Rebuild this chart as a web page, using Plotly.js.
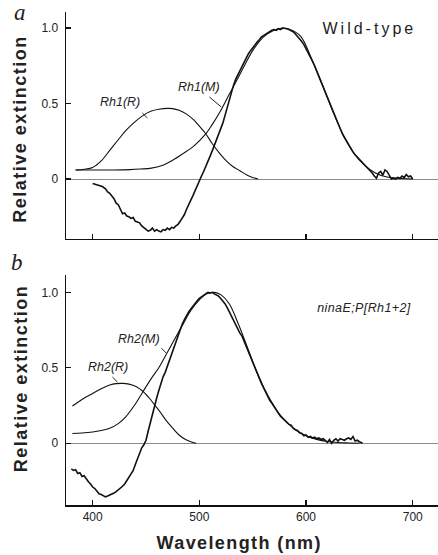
<!DOCTYPE html>
<html>
<head>
<meta charset="utf-8">
<script src="https://cdn.plot.ly/plotly-3.0.1.min.js"></script>
<style>
html,body{margin:0;padding:0;background:#fff;}
#plot{width:438px;height:555px;}
</style>
</head>
<body>
<div id="plot"></div>
<script>
// ---------- Panel a: wild-type ----------
const wtWl = [400,403,406,409,412,414,416,418,420,422,424,426,428,430,432,434,436,438,440,442,444,446,448,450,452,454,456,458,460,462,464,466,468,470,472,474,476,478,480,482,484,486,488,490,492,494,496,498,500,502,504,506,508,510,512,514,516,518,520,522,524,526,528,530,532,534,536,538,540,542,544,546,548,550,552,554,556,558,560,562,564,566,568,570,572,574,576,578,580,582,584,586,588,590,592,594,596,598,600,602,604,606,608,610,612,614,616,618,620,622,624,626,628,630,632,634,636,638,640,642,644,646,648,650,652,654,656,658,660,662,664,666,668,670,672,674,676,678,680,682,684,686,688,690,692,694,696,698,700];
const wtVal = [-0.03,-0.035,-0.04,-0.05,-0.065,-0.085,-0.095,-0.11,-0.13,-0.16,-0.17,-0.2,-0.23,-0.225,-0.245,-0.25,-0.26,-0.255,-0.28,-0.285,-0.29,-0.31,-0.32,-0.33,-0.345,-0.34,-0.325,-0.345,-0.335,-0.345,-0.35,-0.335,-0.34,-0.325,-0.335,-0.32,-0.325,-0.31,-0.3,-0.28,-0.26,-0.235,-0.2,-0.175,-0.14,-0.11,-0.075,-0.04,-0.007,0.02,0.05,0.08,0.11,0.15,0.185,0.22,0.255,0.3,0.33,0.37,0.42,0.47,0.53,0.58,0.62,0.66,0.69,0.72,0.75,0.78,0.8,0.83,0.85,0.87,0.885,0.905,0.92,0.94,0.95,0.96,0.97,0.975,0.985,0.99,0.985,0.995,0.99,1.0,1.0,0.995,0.99,0.985,0.975,0.96,0.945,0.93,0.91,0.89,0.865,0.84,0.81,0.78,0.75,0.72,0.68,0.645,0.61,0.575,0.54,0.5,0.465,0.43,0.395,0.36,0.33,0.3,0.275,0.25,0.225,0.2,0.18,0.16,0.145,0.13,0.115,0.1,0.085,0.075,0.06,0.04,0.02,0.005,0.04,0.05,0.025,0.06,0.05,0.02,0.0,0.005,0.0,0.01,0.005,0.02,0.01,0.03,0.015,0.02,0.0];

const rh1mWl  = [384,400,420,435,445,455,465,475,485,495,505,512,519,525,531,540,550,560,570,578,585,595,605,615,625,635,645,655,665,675,690,700];
const rh1mVal = [0.06,0.06,0.06,0.062,0.066,0.072,0.09,0.125,0.17,0.22,0.29,0.36,0.44,0.52,0.6,0.72,0.85,0.94,0.985,1.0,0.99,0.945,0.8,0.63,0.45,0.29,0.17,0.09,0.04,0.015,0.003,0.0];

const rh1rWl  = [384,392,400,408,416,424,431,439,447,455,462,470,475,481,488,495,500,506,512,519,526,532,538,545,550,555];
const rh1rVal = [0.06,0.065,0.077,0.12,0.19,0.26,0.32,0.375,0.42,0.45,0.462,0.468,0.466,0.455,0.43,0.39,0.35,0.30,0.235,0.17,0.115,0.08,0.055,0.025,0.01,0.0];

// ---------- Panel b: ninaE;P[Rh1+2] ----------
const mutWl = [380,382,384,386,388,390,392,394,396,398,400,402,404,406,408,410,412,414,416,418,420,422,424,426,428,430,432,434,436,438,440,442,444,446,448,450,452,454,456,458,460,462,464,466,468,470,472,474,476,478,480,482,484,486,488,490,492,494,496,498,500,502,504,506,508,510,512,514,516,518,520,522,524,526,528,530,532,534,536,538,540,542,544,546,548,550,552,554,556,558,560,562,564,566,568,570,572,574,576,578,580,582,584,586,588,590,592,594,596,598,600,602,604,606,608,610,612,614,616,618,620,622,624,626,628,630,632,634,636,638,640,642,644,646,648,650,653];
const mutVal = [-0.17,-0.18,-0.175,-0.2,-0.195,-0.22,-0.215,-0.24,-0.255,-0.27,-0.29,-0.3,-0.32,-0.335,-0.34,-0.35,-0.355,-0.35,-0.345,-0.335,-0.33,-0.32,-0.31,-0.3,-0.285,-0.27,-0.245,-0.23,-0.2,-0.18,-0.14,-0.1,-0.066,-0.03,-0.01,0.02,0.08,0.14,0.2,0.25,0.3,0.35,0.4,0.44,0.47,0.51,0.55,0.59,0.64,0.68,0.72,0.76,0.79,0.82,0.85,0.87,0.89,0.91,0.93,0.945,0.96,0.97,0.985,0.995,1.0,0.995,1.0,0.99,0.985,0.975,0.96,0.945,0.925,0.9,0.87,0.84,0.81,0.785,0.755,0.73,0.71,0.675,0.64,0.6,0.565,0.53,0.5,0.465,0.43,0.4,0.37,0.34,0.31,0.285,0.265,0.24,0.22,0.2,0.18,0.165,0.15,0.14,0.125,0.12,0.1,0.09,0.085,0.07,0.065,0.05,0.055,0.04,0.045,0.035,0.04,0.03,0.035,0.025,0.03,0.02,0.005,0.025,0.0,0.02,0.03,0.015,0.03,0.025,0.02,0.03,0.035,0.025,0.045,0.015,0.02,0.01,0.0];

const rh2mWl  = [381,390,400,408,416,424,431,439,447,455,462,469,476,484,492,500,507,514,520,528,536,544,552,560,568,576,584,592,600,610,620,630,640,650];
const rh2mVal = [0.065,0.068,0.075,0.085,0.1,0.13,0.175,0.25,0.34,0.43,0.5,0.59,0.68,0.78,0.88,0.95,0.99,1.0,0.985,0.925,0.8,0.655,0.505,0.375,0.27,0.185,0.125,0.08,0.05,0.026,0.012,0.005,0.002,0.0];

const rh2rWl  = [381,390,400,408,416,422,428,434,441,447,453,458,463,469,475,481,487,492,497];
const rh2rVal = [0.247,0.29,0.33,0.362,0.386,0.395,0.397,0.392,0.375,0.345,0.30,0.255,0.21,0.15,0.10,0.055,0.025,0.01,0.0];

const xTickVals = [400,500,600,700];
const xTickText = ['400','500','600','700'];
const yTickVals = [0,0.5,1.0];
const yTickText = ['0','0.5','1.0'];

const fitLine  = {color:'#111', width:1.1, shape:'spline', smoothing:1};
const dataLine = {color:'#111', width:1.6};

const traces = [
  {x:rh1rWl, y:rh1rVal, xaxis:'x', yaxis:'y', mode:'lines', line:fitLine, hoverinfo:'skip'},
  {x:rh1mWl, y:rh1mVal, xaxis:'x', yaxis:'y', mode:'lines', line:fitLine, hoverinfo:'skip'},
  {x:wtWl,   y:wtVal,   xaxis:'x', yaxis:'y', mode:'lines', line:dataLine, hoverinfo:'skip'},
  {x:rh2rWl, y:rh2rVal, xaxis:'x2', yaxis:'y2', mode:'lines', line:fitLine, hoverinfo:'skip'},
  {x:rh2mWl, y:rh2mVal, xaxis:'x2', yaxis:'y2', mode:'lines', line:fitLine, hoverinfo:'skip'},
  {x:mutWl,  y:mutVal,  xaxis:'x2', yaxis:'y2', mode:'lines', line:dataLine, hoverinfo:'skip'}
];

const tickFont = {family:'Liberation Sans, Arial, sans-serif', size:12, color:'#222'};
const xBase = {range:[375,723.7], showline:true, linecolor:'#111', linewidth:1.5, ticks:'inside', ticklen:5, tickwidth:1.2, tickcolor:'#111',
  tickvals:xTickVals, ticktext:xTickText, showgrid:false, zeroline:false, tickfont:tickFont, fixedrange:true};
const yBase = {showline:true, linecolor:'#111', linewidth:1.5, ticks:'inside', ticklen:5, tickwidth:1.2, tickcolor:'#111',
  tickvals:yTickVals, ticktext:yTickText, showgrid:false, zeroline:true, zerolinecolor:'#8a8a8a', zerolinewidth:1,
  tickfont:tickFont, ticklabelstandoff:4, fixedrange:true};

const labFont = {family:'Liberation Sans, Arial, sans-serif', size:12.5, color:'#222', style:'italic'};
const titleFont = {family:'Liberation Sans, Arial, sans-serif', size:18, color:'#222', weight:'bold'};

const layout = {
  width:438, height:555,
  margin:{l:66, r:0, t:12, b:50},
  paper_bgcolor:'#fff', plot_bgcolor:'#fff',
  showlegend:false,
  xaxis: Object.assign({}, xBase, {anchor:'y', domain:[0,1], showticklabels:false}),
  yaxis: Object.assign({}, yBase, {anchor:'x', domain:[0.5396,1], range:[-0.397,1.106]}),
  xaxis2: Object.assign({}, xBase, {anchor:'y2', domain:[0,1], showticklabels:true}),
  yaxis2: Object.assign({}, yBase, {anchor:'x2', domain:[0,0.4665], range:[-0.409,1.115]}),
  shapes:[
    {type:'line', xref:'x', yref:'y', x0:446.6, y0:0.437, x1:451.3, y1:0.404, line:{color:'#222', width:1}},
    {type:'line', xref:'x', yref:'y', x0:509.4, y0:0.543, x1:520.6, y1:0.477, line:{color:'#222', width:1}},
    {type:'line', xref:'x2', yref:'y2', x0:464.4, y0:0.63, x1:469, y1:0.598, line:{color:'#222', width:1}},
    {type:'line', xref:'x2', yref:'y2', x0:418.5, y0:0.439, x1:423.2, y1:0.406, line:{color:'#222', width:1}}
  ],
  annotations:[
    {text:'Relative extinction', xref:'paper', yref:'paper', x:-0.121, y:0.7637, textangle:-90, showarrow:false, font:titleFont, xanchor:'center', yanchor:'middle'},
    {text:'Relative extinction', xref:'paper', yref:'paper', x:-0.121, y:0.2576, textangle:-90, showarrow:false, font:titleFont, xanchor:'center', yanchor:'middle'},
    {text:'Wavelength (nm)', xref:'paper', yref:'paper', x:0.465, y:-0.077, showarrow:false, font:titleFont, xanchor:'center', yanchor:'middle'},
    {text:'a', xref:'paper', yref:'paper', x:-0.1237, y:0.998, showarrow:false, font:{family:'Liberation Serif, Times New Roman, serif', size:23, color:'#222', style:'italic'}, xanchor:'center', yanchor:'middle'},
    {text:'b', xref:'paper', yref:'paper', x:-0.1317, y:0.491, showarrow:false, font:{family:'Liberation Serif, Times New Roman, serif', size:23, color:'#222', style:'italic'}, xanchor:'center', yanchor:'middle'},
    {text:'Wild-type', xref:'paper', yref:'paper', x:0.817, y:0.9665, showarrow:false, font:{family:'Liberation Sans, Arial, sans-serif', size:16, color:'#222'}, xanchor:'center', yanchor:'middle'},
    {text:'ninaE;P[Rh1+2]', xref:'paper', yref:'paper', x:0.801, y:0.3996, showarrow:false, font:{family:'Liberation Sans, Arial, sans-serif', size:12.5, color:'#222', style:'italic'}, xanchor:'center', yanchor:'middle'},
    {text:'Rh1(R)', xref:'x', yref:'y', x:426, y:0.51, showarrow:false, font:labFont, xanchor:'center', yanchor:'middle'},
    {text:'Rh1(M)', xref:'x', yref:'y', x:500, y:0.61, showarrow:false, font:labFont, xanchor:'center', yanchor:'middle'},
    {text:'Rh2(M)', xref:'x2', yref:'y2', x:443.8, y:0.69, showarrow:false, font:labFont, xanchor:'center', yanchor:'middle'},
    {text:'Rh2(R)', xref:'x2', yref:'y2', x:414.7, y:0.506, showarrow:false, font:labFont, xanchor:'center', yanchor:'middle'}
  ]
};

const spacing = {0:'1.5px', 1:'1.5px', 2:'1.4px', 5:'3px', 6:'0.4px'};

Plotly.newPlot('plot', traces, layout, {staticPlot:true, displayModeBar:false}).then(function(){
  document.querySelectorAll('g.annotation').forEach(function(g){
    const i = g.getAttribute('data-index');
    if (spacing[i]) {
      const t = g.querySelector('text');
      if (t) t.style.letterSpacing = spacing[i];
    }
  });
});
</script>
</body>
</html>
